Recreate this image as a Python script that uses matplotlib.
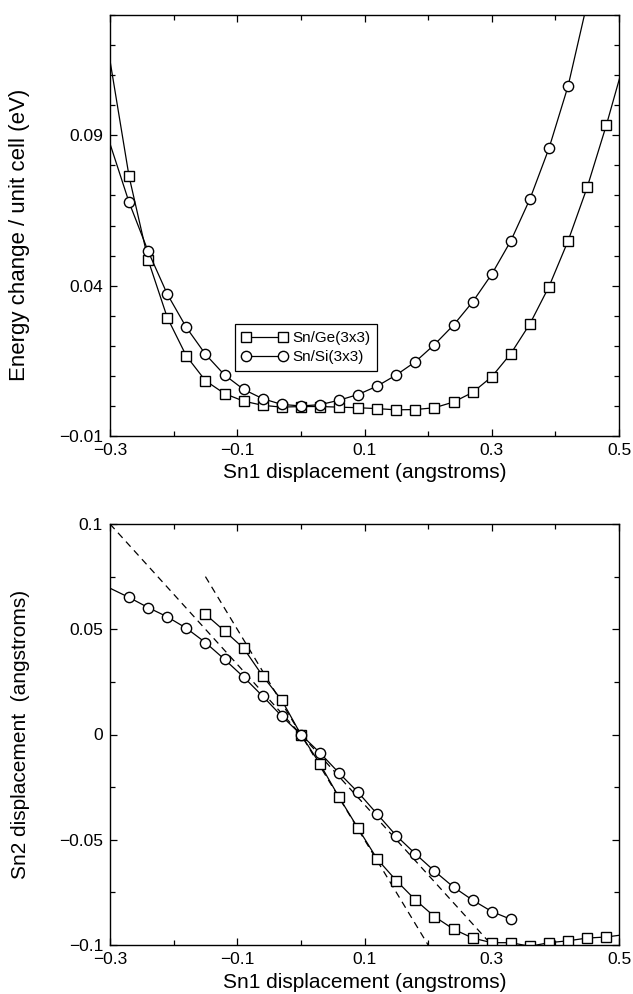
import matplotlib
matplotlib.use('Agg')
import matplotlib.pyplot as plt
from matplotlib.ticker import MultipleLocator, FixedLocator

plt.rcParams['font.family'] = ['Liberation Sans', 'DejaVu Sans']

# energy vs Sn1 displacement (first and last points sit outside the plotted range)
e_x_ge = [-0.33, -0.27, -0.24, -0.21, -0.18, -0.15, -0.12, -0.09, -0.06, -0.03,
          0.00, 0.03, 0.06, 0.09, 0.12, 0.15, 0.18, 0.21, 0.24, 0.27,
          0.30, 0.33, 0.36, 0.39, 0.42, 0.45, 0.48, 0.51]
e_ge = [0.1534, 0.0763, 0.0485, 0.0294, 0.0166, 0.0084, 0.0041, 0.0016, 0.0002, -0.0004,
        -0.0002, -0.0002, -0.0004, -0.0006, -0.0009, -0.0013, -0.0012, -0.0006, 0.0013, 0.0045,
        0.0097, 0.0174, 0.0273, 0.0397, 0.0549, 0.0727, 0.0933, 0.1158]
e_x_si = [-0.33, -0.27, -0.24, -0.21, -0.18, -0.15, -0.12, -0.09, -0.06, -0.03,
          0.00, 0.03, 0.06, 0.09, 0.12, 0.15, 0.18, 0.21, 0.24, 0.27,
          0.30, 0.33, 0.36, 0.39, 0.42, 0.45]
e_si = [0.1067, 0.0677, 0.0514, 0.0372, 0.0261, 0.0172, 0.0103, 0.0055, 0.0024, 0.0005,
        0.0000, 0.0004, 0.0019, 0.0038, 0.0066, 0.0103, 0.0147, 0.0204, 0.0269, 0.0346,
        0.0438, 0.0549, 0.0688, 0.0857, 0.1064, 0.1340]

# Sn2 displacement vs Sn1 displacement
d_x_ge = [-0.15, -0.12, -0.09, -0.06, -0.03, 0.00, 0.03, 0.06, 0.09, 0.12,
          0.15, 0.18, 0.21, 0.24, 0.27, 0.30, 0.33, 0.36, 0.39, 0.42,
          0.45, 0.48, 0.51]
d_ge = [0.0571, 0.0492, 0.0410, 0.0278, 0.0163, 0.0000, -0.0140, -0.0298, -0.0446, -0.0592,
        -0.0694, -0.0786, -0.0865, -0.0925, -0.0967, -0.0989, -0.0989, -0.1006, -0.0989, -0.0980,
        -0.0967, -0.0962, -0.0950]
d_x_si = [-0.33, -0.27, -0.24, -0.21, -0.18, -0.15, -0.12, -0.09, -0.06, -0.03,
          0.00, 0.03, 0.06, 0.09, 0.12, 0.15, 0.18, 0.21, 0.24, 0.27,
          0.30, 0.33]
d_si = [0.0739, 0.0651, 0.0603, 0.0559, 0.0505, 0.0437, 0.0357, 0.0273, 0.0182, 0.0087,
        0.0000, -0.0087, -0.0183, -0.0275, -0.0378, -0.0481, -0.0567, -0.0649, -0.0725, -0.0787,
        -0.0841, -0.0878]

# reference lines y = -x/3 and y = -x/2
ref1_x = [-0.3, 0.3]
ref1_y = [0.1, -0.1]
ref2_x = [-0.15, 0.2]
ref2_y = [0.075, -0.1]

xlabel = 'Sn1 displacement (angstroms)'
xticks = [-0.3, -0.1, 0.1, 0.3, 0.5]
xticklabels = ['\u22120.3', '\u22120.1', '0.1', '0.3', '0.5']

fig = plt.figure(figsize=(6.33, 9.94), dpi=100)
ax1 = fig.add_axes([110/633, 1-436/994, 509/633, 421/994])
ax2 = fig.add_axes([110/633, 1-945/994, 509/633, 421/994])

line_kw = dict(color='black', lw=0.9, markerfacecolor='white',
               markeredgecolor='black', markeredgewidth=1.0)

ax1.plot(e_x_ge, e_ge, marker='s', ms=6.6, label='Sn/Ge(3x3)', **line_kw)
ax1.plot(e_x_si, e_si, marker='o', ms=7.4, label='Sn/Si(3x3)', **line_kw)

ax2.plot(ref1_x, ref1_y, color='black', lw=0.9, dashes=(5.5, 4))
ax2.plot(ref2_x, ref2_y, color='black', lw=0.9, dashes=(5.5, 4))
ax2.plot(d_x_ge, d_ge, marker='s', ms=6.6, **line_kw)
ax2.plot(d_x_si, d_si, marker='o', ms=7.4, **line_kw)

ax1.set_ylim(-0.01, 0.13)
ax1.yaxis.set_major_locator(FixedLocator([-0.01, 0.04, 0.09]))
ax1.set_yticklabels(['\u22120.01', '0.04', '0.09'])
ax1.yaxis.set_minor_locator(MultipleLocator(0.01))
ax1.set_ylabel('Energy change / unit cell (eV)', fontsize=16)

ax2.set_ylim(-0.1, 0.1)
ax2.yaxis.set_major_locator(FixedLocator([-0.1, -0.05, 0, 0.05, 0.1]))
ax2.set_yticklabels(['\u22120.1', '\u22120.05', '0', '0.05', '0.1'])
ax2.yaxis.set_minor_locator(MultipleLocator(0.025))
ax2.set_ylabel('Sn2 displacement  (angstroms)', fontsize=15)

ax1.yaxis.set_label_coords(-0.158, 0.477)
ax2.yaxis.set_label_coords(-0.158, 0.5)

for ax in (ax1, ax2):
    ax.set_xlim(-0.3, 0.5)
    ax.xaxis.set_major_locator(FixedLocator(xticks))
    ax.set_xticklabels(xticklabels)
    ax.xaxis.set_minor_locator(MultipleLocator(0.1))
    ax.set_xlabel(xlabel, fontsize=15, labelpad=4)
    ax.tick_params(which='both', direction='in', top=True, right=True,
                   labelsize=12.5, width=0.9)
    ax.tick_params(which='major', length=5, pad=5)
    ax.tick_params(which='minor', length=3.3)
    for sp in ax.spines.values():
        sp.set_linewidth(1.0)

leg = ax1.legend(loc='upper left', bbox_to_anchor=(0.2456, 0.266),
                 borderaxespad=0, numpoints=2, handlelength=3.0,
                 handletextpad=0.3, labelspacing=0.35, borderpad=0.45,
                 fontsize=11, fancybox=False, framealpha=1)
leg.get_frame().set_edgecolor('black')
leg.get_frame().set_linewidth(0.9)

fig.savefig('out.png', dpi=100)
